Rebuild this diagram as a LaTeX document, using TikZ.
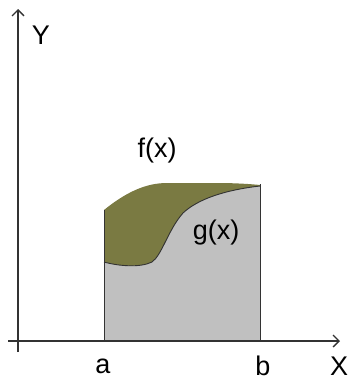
\documentclass[tikz,border=0pt]{standalone}
\usepackage{fontspec}
\setmainfont{Liberation Sans}
\usetikzlibrary{arrows.meta}
\definecolor{olivefill}{RGB}{122,122,66}
\definecolor{grayfill}{RGB}{192,192,192}
\definecolor{axisgray}{RGB}{50,50,50}
\tikzset{
  axis/.style={draw=axisgray, line width=1.3pt, -{Straight Barb[length=6pt,width=12pt]}},
  lbl/.style={font=\fontsize{27}{30}\selectfont, inner sep=0pt},
  edge/.style={draw=black!80, line width=1pt}
}
\begin{document}
\begin{tikzpicture}[x=1pt,y=-1pt]
\useasboundingbox (0,0) rectangle (348,380);
% gray area under g
\fill[grayfill] (104,341) -- (104,262) .. controls (118,266) and (140,268) .. (152,262)
  .. controls (162,255) and (168,230) .. (183,213)
  .. controls (198,199) and (225,190) .. (260,186) -- (260,341) -- cycle;
% olive area between f and g
\fill[olivefill] (104,210) .. controls (125,193) and (145,183) .. (167,183)
  -- (217,183) .. controls (235,183) and (250,184) .. (260,185)
  -- (260,186) .. controls (225,190) and (198,199) .. (183,213)
  .. controls (168,230) and (162,255) .. (152,262)
  .. controls (140,268) and (118,266) .. (104,262) -- cycle;
% g curve
\draw[edge, line width=0.9pt] (104,262) .. controls (118,266) and (140,268) .. (152,262)
  .. controls (162,255) and (168,230) .. (183,213)
  .. controls (198,199) and (225,190) .. (260,186);
% vertical edges
\coordinate (aB) at (104,341);
\coordinate (aT) at (104,210);
\coordinate (bB) at (260,341);
\coordinate (bT) at (260,184);
\draw[edge] (aB) -- (aT);
\draw[edge] (bB) -- (bT);
% axes
\coordinate (ys) at (18,352);
\coordinate (ye) at (18,9);
\coordinate (xs) at (8,341);
\coordinate (xe) at (340,341);
\draw[axis] (ys) -- (ye);
\draw[axis] (xs) -- (xe);
% labels
\node[lbl] (Y) at (41,35) {Y};
\node[lbl] (X) at (339,366) {X};
\node[lbl] (a) at (103,366) {a};
\node[lbl] (b) at (263,366) {b};
\node[lbl] (f) at (157,151) {f(x)};
\node[lbl] (g) at (216,233) {g(x)};
\end{tikzpicture}
\end{document}
